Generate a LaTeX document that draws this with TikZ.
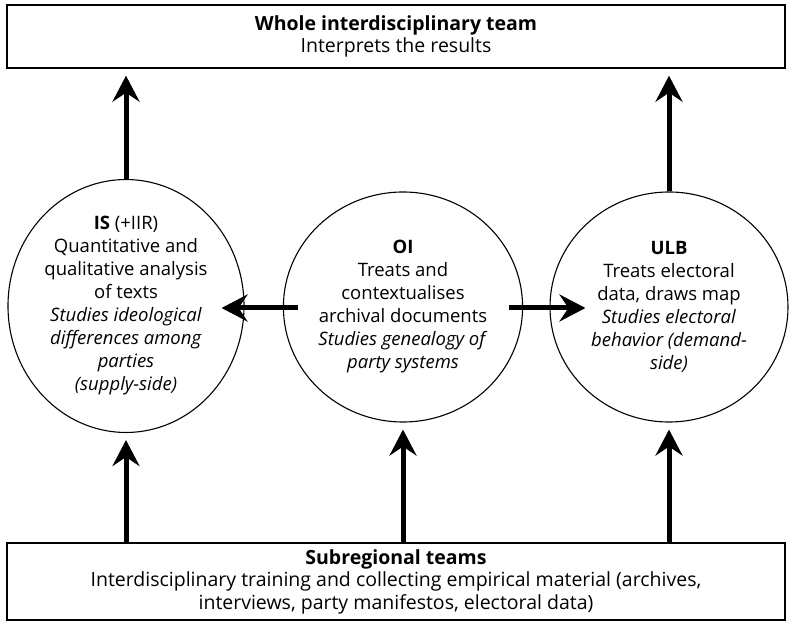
\documentclass[tikz,border=0pt]{standalone}
\usepackage{fontspec}
\setmainfont{Open Sans}
\usetikzlibrary{arrows.meta,shapes.geometric}
\tikzset{
  teambox/.style={draw, line width=1.4pt, minimum width=778pt, align=center, inner sep=0pt,
    font=\fontsize{19.5pt}{22.5pt}\selectfont},
  unit/.style={draw, ellipse, line width=1.1pt, minimum width=236pt, minimum height=230pt, inner sep=0pt, align=center,
    font=\fontsize{18.5pt}{23pt}\selectfont},
  flow/.style={line width=5pt, -{Stealth[length=26pt,width=27pt,inset=9pt]}}
}
\begin{document}
\begin{tikzpicture}[x=1pt,y=1pt]
\useasboundingbox (0,0) rectangle (792,624);
\node[teambox, minimum height=63pt] (top) at (396,587.5)
  {\textbf{Whole interdisciplinary team}\\Interprets the results};
\node[teambox, minimum height=77pt] (bot) at (396,42.5)
  {\textbf{Subregional teams}\\Interdisciplinary training and collecting empirical material (archives,\\interviews, party manifestos, electoral data)};
\node[unit] (L) at (126,318)
  {\textbf{IS} (+IIR)\\Quantitative and\\qualitative analysis\\of texts\\\textit{Studies ideological}\\\textit{differences among}\\\textit{parties}\\\textit{(supply-side)}};
\node[unit] (M) at (403,317)
  {\textbf{OI}\\Treats and\\contextualises\\archival documents\\\textit{Studies genealogy of}\\\textit{party systems}};
\node[unit, minimum width=238pt] (R) at (669,317)
  {\textbf{ULB}\\Treats electoral\\data, draws map\\\textit{Studies electoral}\\\textit{behavior (demand-}\\\textit{side)}};
% upward arrows to top
\draw[flow, shorten >=7pt] (L.north) -- (L.north |- top.south);
\draw[flow, shorten >=7pt] (R.north) -- (R.north |- top.south);
% upward arrows from bottom
\draw[flow, shorten >=7pt] (bot.north -| L.south) -- (L.south);
\draw[flow, shorten >=7pt] (bot.north -| M.south) -- (M.south);
\draw[flow, shorten >=7pt] (bot.north -| R.south) -- (R.south);
% horizontal arrows
\draw[flow] ([xshift=15pt,yshift=-1pt]M.west) -- ([xshift=-23pt,yshift=-2pt]L.east);
\draw[flow] ([xshift=-14pt,yshift=-1pt]M.east) -- ([xshift=36pt,yshift=-1pt]R.west);
\end{tikzpicture}
\end{document}
